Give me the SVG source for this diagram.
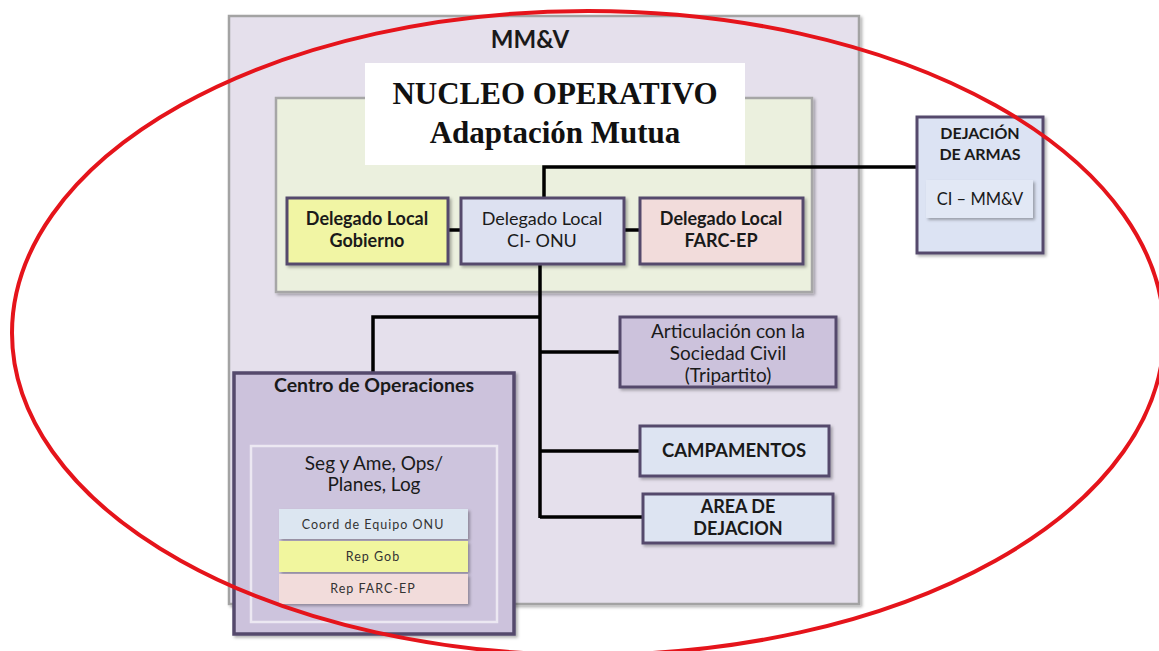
<svg xmlns="http://www.w3.org/2000/svg" width="1159" height="651" viewBox="0 0 1159 651">
<defs>
<filter id="sh" x="-10%" y="-10%" width="130%" height="130%">
<feDropShadow dx="2" dy="2" stdDeviation="1.5" flood-color="#000" flood-opacity="0.3"/>
</filter>
<style>
.box{stroke:#554a6c;stroke-width:3;filter:url(#sh)}
.t{font-family:Lato,"Liberation Sans",sans-serif;fill:#1a1a1a;text-anchor:middle}
.b{font-weight:bold}
.conn{stroke:#000;stroke-width:3.5;fill:none}
.s{font-size:12.5px;letter-spacing:1px;fill:#333}
</style>
</defs>
<rect width="1159" height="651" fill="#fff"/>
<g id="mmv">
<rect x="229" y="16" width="630" height="588" fill="#e5e0ec" stroke="#a3a3a3" stroke-width="2.5" filter="url(#sh)"/>
<text class="t b" x="530" y="48" font-size="24">MM&amp;V</text>
</g>
<g id="nucleo">
<rect x="276" y="98" width="536" height="194" fill="#ebf0de" stroke="#a6a6a6" stroke-width="2.5" filter="url(#sh)"/>
<rect x="365" y="63" width="380" height="102" fill="#fff"/>
<text x="555" y="104" font-family="'Liberation Serif',serif" font-weight="bold" font-size="31" text-anchor="middle" fill="#111">NUCLEO OPERATIVO</text>
<text x="555" y="143" font-family="'Liberation Serif',serif" font-weight="bold" font-size="31" text-anchor="middle" fill="#111">Adaptación Mutua</text>
</g>
<g id="connectors">
<polyline class="conn" points="544,197 544,167 916,167"/>
<line class="conn" x1="448" y1="230" x2="460" y2="230"/>
<line class="conn" x1="624" y1="230" x2="640" y2="230"/>
<line class="conn" x1="540" y1="264" x2="540" y2="518"/>
<polyline class="conn" points="541,317 373,317 373,372"/>
<line class="conn" x1="540" y1="352" x2="620" y2="352"/>
<line class="conn" x1="540" y1="451" x2="640" y2="451"/>
<line class="conn" x1="540" y1="517" x2="643" y2="517"/>
</g>
<g id="del-gobierno">
<rect class="box" x="287" y="198" width="161" height="66" fill="#f1f5a4"/>
<text class="t b" x="367" y="225" font-size="18">Delegado Local</text>
<text class="t b" x="367" y="247" font-size="18">Gobierno</text>
</g>
<g id="del-onu">
<rect class="box" x="461" y="198" width="163" height="66" fill="#dde1f1"/>
<text class="t" x="542" y="225" font-size="18">Delegado Local</text>
<text class="t" x="542" y="247" font-size="18">CI- ONU</text>
</g>
<g id="del-farc">
<rect class="box" x="640" y="198" width="163" height="66" fill="#f2dcdb"/>
<text class="t b" x="721" y="225" font-size="18">Delegado Local</text>
<text class="t b" x="721" y="247" font-size="18">FARC-EP</text>
</g>
<g id="dejacion-armas">
<rect class="box" x="917" y="117" width="126" height="136" fill="#dce3f3"/>
<text class="t b" x="980" y="139" font-size="16">DEJACIÓN</text>
<text class="t b" x="980" y="160" font-size="16">DE ARMAS</text>
<rect x="926" y="180" width="107" height="38" fill="#e2e8f5" filter="url(#sh)"/>
<text class="t" x="980" y="205" font-size="16.5">CI – MM&amp;V</text>
</g>
<g id="articulacion">
<rect class="box" x="620" y="317" width="216" height="70" fill="#ccc2dc"/>
<text class="t" x="728" y="338" font-size="19">Articulación con la</text>
<text class="t" x="728" y="360" font-size="19">Sociedad Civil</text>
<text class="t" x="728" y="382" font-size="19">(Tripartito)</text>
</g>
<g id="campamentos">
<rect class="box" x="640" y="426" width="189" height="50" fill="#dde4f2"/>
<text class="t b" x="734" y="457" font-size="18.5">CAMPAMENTOS</text>
</g>
<g id="area-dejacion">
<rect class="box" x="643" y="494" width="190" height="49" fill="#dde4f2"/>
<text class="t b" x="738" y="513" font-size="18">AREA DE</text>
<text class="t b" x="738" y="535" font-size="18">DEJACION</text>
</g>
<g id="centro">
<rect x="234" y="373" width="280" height="261" fill="#ccc2dc" stroke="#554a6c" stroke-width="3.5" filter="url(#sh)"/>
<text class="t b" x="374" y="392" font-size="19.5" fill="#111">Centro de Operaciones</text>
<rect x="251" y="446" width="246" height="176" fill="#cdc4dd" stroke="#ece8f2" stroke-width="2.5"/>
<text class="t" x="374" y="470" font-size="19">Seg y Ame, Ops/</text>
<text class="t" x="374" y="491" font-size="19">Planes, Log</text>
<rect x="279" y="509" width="189" height="30" fill="#dce6f1" filter="url(#sh)"/>
<text class="t s" x="373" y="529">Coord de Equipo ONU</text>
<rect x="279" y="541" width="189" height="31" fill="#f1f69e" filter="url(#sh)"/>
<text class="t s" x="373" y="561">Rep Gob</text>
<rect x="279" y="574" width="189" height="30" fill="#f2dcdb" filter="url(#sh)"/>
<text class="t s" x="373" y="593">Rep FARC-EP</text>
</g>
<ellipse cx="588" cy="333" rx="576" ry="322" fill="none" stroke="#e5141b" stroke-width="4"/>
</svg>
